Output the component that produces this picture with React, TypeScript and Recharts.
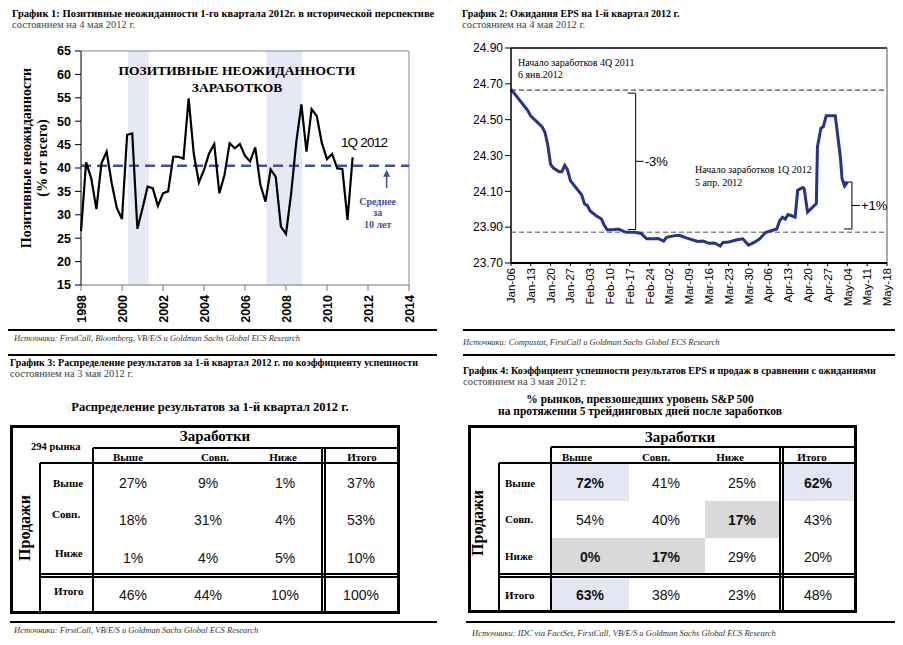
import React from 'react';
import { LineChart, Line, XAxis, YAxis, ReferenceLine, ReferenceArea } from 'recharts';

const SERIF = '"Liberation Serif", "Times New Roman", serif';
const SANS = '"Liberation Sans", Arial, sans-serif';
const NAVY = '#27348b';
const AVG_BLUE = '#4152a0';

// ---- chart 1: quarterly share of positive surprises, from 1998 Q1
const surpriseStartYear = 1998;
const surprisePct = [
  26.5, 41.2, 37.8, 31.2, 41.0, 43.5, 36.7, 31.4, 29.1, 47.1,
  47.4, 27.0, 31.4, 36.0, 35.7, 31.9, 34.6, 35.0, 42.4, 42.4,
  42.0, 54.9, 43.1, 36.9, 39.6, 43.1, 45.1, 34.6, 38.5, 45.3,
  44.2, 45.1, 42.6, 41.4, 44.4, 36.4, 32.8, 39.7, 38.1, 27.5,
  25.9, 34.5, 45.5, 53.6, 43.5, 52.6, 51.1, 45.3, 41.9, 43.0,
  39.9, 39.8, 28.9, 42.3,
];
const yearTicks = [1998, 2000, 2002, 2004, 2006, 2008, 2010, 2012, 2014];
const pctTicks = [15, 20, 25, 30, 35, 40, 45, 50, 55, 60, 65];
const recessions = [
  [2000.3, 2001.3],
  [2007.05, 2008.78],
];
const tenYearAvg = 40.5;

// ---- chart 2: 1Q 2012 EPS expectations, days since Jan-06
const epsDays = [
  0, 2, 4, 6, 7, 9, 11, 12, 13, 14, 15, 17, 18, 19, 20, 21, 23, 25, 26, 27,
  28, 30, 32, 33, 34, 36, 38, 40, 41, 44, 46, 48, 50, 52, 54, 55, 57, 59, 60, 62,
  66, 68, 70, 72, 74, 75, 77, 80, 82, 84, 86, 88, 90, 92, 94, 95, 96, 97, 98, 99,
  100.5, 101.4, 103.2, 103.7, 104.9, 108, 108.4, 109.6, 110.5, 111.5, 114.7, 116.5, 117.1, 118, 119,
];
const epsValues = [
  24.67, 24.63, 24.59, 24.55, 24.52, 24.49, 24.46, 24.43, 24.36, 24.25,
  24.23, 24.21, 24.21, 24.245, 24.22, 24.16, 24.12, 24.08, 24.03, 24.02,
  23.99, 23.965, 23.945, 23.91, 23.885, 23.885, 23.89, 23.875, 23.872, 23.872,
  23.865, 23.835, 23.835, 23.837, 23.822, 23.843, 23.85, 23.855, 23.852, 23.84,
  23.82, 23.822, 23.81, 23.812, 23.795, 23.815, 23.817, 23.83, 23.835, 23.8,
  23.815, 23.835, 23.87, 23.88, 23.89, 23.935, 23.955, 23.945, 23.97, 23.965,
  23.956, 24.106, 24.121, 24.115, 23.984, 24.031, 24.348, 24.452, 24.462, 24.522,
  24.522, 24.292, 24.171, 24.13, 24.152,
];
const weekLabels = [
  'Jan-06', 'Jan-13', 'Jan-20', 'Jan-27', 'Feb-03', 'Feb-10', 'Feb-17', 'Feb-24',
  'Mar-02', 'Mar-09', 'Mar-16', 'Mar-23', 'Mar-30', 'Apr-06', 'Apr-13', 'Apr-20',
  'Apr-27', 'May-04', 'May-11', 'May-18',
];
const epsTicks = [23.7, 23.9, 24.1, 24.3, 24.5, 24.7, 24.9];
const eps4QStart = 24.665;
const eps1QStart = 23.872;
const dropBracket = { day: 44.1, from: 24.648, to: 23.887, label: '-3%' };
const riseBracket = { day: 120.6, from: 24.152, to: 23.89, label: '+1%' };

// ---- tables 3 and 4
const colHeads = ['Выше', 'Совп.', 'Ниже', 'Итого'];
const rowHeads = ['Выше', 'Совп.', 'Ниже', 'Итого'];
const table3Values = [
  ['27%', '9%', '1%', '37%'],
  ['18%', '31%', '4%', '53%'],
  ['1%', '4%', '5%', '10%'],
  ['46%', '44%', '10%', '100%'],
];
const table4Values = [
  ['72%', '41%', '25%', '62%'],
  ['54%', '40%', '17%', '43%'],
  ['0%', '17%', '29%', '20%'],
  ['63%', '38%', '23%', '48%'],
];
// b = lavender highlight, g = grey highlight
const table4Shade = [
  ['b', '', '', 'b'],
  ['', '', 'g', ''],
  ['g', 'g', '', ''],
  ['b', '', '', ''],
];

const surpriseData = surprisePct.map((pct, i) => ({ year: surpriseStartYear + i / 4, pct }));
const epsData = epsDays.map((day, i) => ({ day, eps: epsValues[i] }));

function Txt({ x, y, anchor = 'start', style, children }: any) {
  const tx = anchor === 'middle' ? '-50%' : anchor === 'end' ? '-100%' : '0';
  return (
    <div
      style={{
        position: 'absolute', left: x, top: y, transform: `translate(${tx}, -50%)`,
        whiteSpace: 'nowrap', lineHeight: 1, ...style,
      }}
    >
      {children}
    </div>
  );
}

const HL = ({ x1, x2, y, t = 2 }: any) => (
  <div style={{ position: 'absolute', left: x1, top: y - t / 2, width: x2 - x1, height: t, background: '#000' }} />
);
const VL = ({ x, y1, y2, t = 2 }: any) => (
  <div style={{ position: 'absolute', left: x - t / 2, top: y1, width: t, height: y2 - y1, background: '#000' }} />
);

const YearTick = (props: any) => {
  const { x, y, payload } = props;
  return (
    <text x={x} y={y} transform={`rotate(-90 ${x} ${y})`} textAnchor="end" dy="0.36em"
      fontFamily={SANS} fontSize={12.5} fontWeight={700} fill="#000">
      {payload.value}
    </text>
  );
};

const WeekTick = (props: any) => {
  const { x, y, payload } = props;
  return (
    <text x={x} y={y} transform={`rotate(-90 ${x} ${y})`} textAnchor="end" dy="0.36em"
      fontFamily={SANS} fontSize={11.5} fill="#000">
      {weekLabels[Math.round(payload.value / 7)]}
    </text>
  );
};

const AvgArrow = (props: any) => {
  const { x1, y1, y2 } = props;
  const top = Math.min(y1, y2);
  const bot = Math.max(y1, y2);
  const tx = x1 - 9;
  const ts = { fontFamily: SERIF, fontSize: 10, fontWeight: 700, fill: AVG_BLUE, textAnchor: 'middle' as const };
  return (
    <g>
      <line x1={x1} y1={bot} x2={x1} y2={top + 5} stroke={AVG_BLUE} strokeWidth={1.5} />
      <polygon points={`${x1},${top} ${x1 - 3.5},${top + 7} ${x1 + 3.5},${top + 7}`} fill={AVG_BLUE} />
      <text x={tx} y={bot + 17} {...ts}>Среднее</text>
      <text x={tx} y={bot + 28} {...ts}>за</text>
      <text x={tx} y={bot + 40} {...ts}>10 лет</text>
    </g>
  );
};

const makeBracket = (label: string) => (props: any) => {
  const { x1, y1, y2 } = props;
  const top = Math.min(y1, y2);
  const bot = Math.max(y1, y2);
  const mid = (top + bot) / 2;
  return (
    <g>
      <path d={`M${x1 - 8},${top} H${x1} V${bot} H${x1 - 8} M${x1},${mid} H${x1 + 8}`}
        stroke="#000" strokeWidth={1} fill="none" />
      <text x={x1 + 9} y={mid} dy="0.36em" fontFamily={SANS} fontSize={13} fill="#000">{label}</text>
    </g>
  );
};

function SurpriseChart() {
  return (
    <div style={{ position: 'absolute', left: 0, top: 0 }}>
      <LineChart width={440} height={328} data={surpriseData} margin={{ top: 51, right: 31, bottom: 0, left: 41 }}>
        <XAxis dataKey="year" type="number" domain={[1998, 2014]} ticks={yearTicks} interval={0}
          height={43} tickSize={6} tickMargin={4} tick={<YearTick />}
          axisLine={{ stroke: '#777' }} tickLine={{ stroke: '#777' }} />
        <YAxis type="number" domain={[15, 65]} ticks={pctTicks} interval={0} width={40}
          tickSize={6} tickMargin={4}
          tick={{ fontFamily: SANS, fontSize: 12.5, fontWeight: 700, fill: '#000' }}
          axisLine={{ stroke: '#000' }} tickLine={{ stroke: '#000' }} />
        {recessions.map(([a, b]) => (
          <ReferenceArea key={a} x1={a} x2={b} y1={15} y2={65} fill="#e6e8f3" fillOpacity={1} stroke="none" />
        ))}
        <ReferenceLine y={65} stroke="#888" />
        <ReferenceLine x={2014} stroke="#888" />
        <ReferenceLine y={tenYearAvg} stroke={AVG_BLUE} strokeWidth={2.5} strokeDasharray="10 6" />
        <ReferenceLine segment={[{ x: 2012.91, y: 35.7 }, { x: 2012.91, y: 39.6 }]} shape={AvgArrow} />
        <Line type="linear" dataKey="pct" stroke="#000" strokeWidth={2.2} dot={false} isAnimationActive={false} />
      </LineChart>
      <Txt x={237} y={71} anchor="middle" style={{ fontFamily: SERIF, fontSize: 13.5, fontWeight: 700 }}>
        ПОЗИТИВНЫЕ НЕОЖИДАННОСТИ
      </Txt>
      <Txt x={237} y={87.5} anchor="middle" style={{ fontFamily: SERIF, fontSize: 13.5, fontWeight: 700 }}>
        ЗАРАБОТКОВ
      </Txt>
      <Txt x={364} y={143} anchor="middle" style={{ fontFamily: SANS, fontSize: 13.5, letterSpacing: -0.8 }}>
        1Q 2012
      </Txt>
      <div
        style={{
          position: 'absolute', left: 35, top: 158, transform: 'translate(-50%, -50%) rotate(-90deg)',
          textAlign: 'center', whiteSpace: 'nowrap', lineHeight: '16px',
          fontFamily: SERIF, fontSize: 14, fontWeight: 700,
        }}
      >
        Позитивные неожиданности<br />(% от всего)
      </div>
    </div>
  );
}

function EpsChart() {
  return (
    <div style={{ position: 'absolute', left: 450, top: 0 }}>
      <LineChart width={453} height={330} data={epsData} margin={{ top: 48, right: 16, bottom: 15, left: 0 }}>
        <XAxis dataKey="day" type="number" domain={[0, 133]} ticks={weekLabels.map((_, i) => i * 7)}
          interval={0} height={52} tickSize={3} tickMargin={2} tick={<WeekTick />}
          axisLine={{ stroke: '#000', strokeWidth: 2 }} tickLine={{ stroke: '#000' }} />
        <YAxis type="number" domain={[23.7, 24.9]} ticks={epsTicks} interval={0} width={61}
          tickSize={6} tickMargin={2} tickFormatter={(v: number) => v.toFixed(2)}
          tick={{ fontFamily: SANS, fontSize: 12, fill: '#000' }}
          axisLine={{ stroke: '#000', strokeWidth: 1.5 }} tickLine={{ stroke: '#000' }} />
        <ReferenceLine y={24.9} stroke="#000" strokeWidth={1.5} />
        <ReferenceLine x={133} stroke="#555" />
        <ReferenceLine y={eps4QStart} stroke="#222" strokeDasharray="5 3" />
        <ReferenceLine y={eps1QStart} stroke="#555" strokeDasharray="5 3" />
        <ReferenceLine
          segment={[{ x: dropBracket.day, y: dropBracket.from }, { x: dropBracket.day, y: dropBracket.to }]}
          shape={makeBracket(dropBracket.label)} />
        <ReferenceLine
          segment={[{ x: riseBracket.day, y: riseBracket.from }, { x: riseBracket.day, y: riseBracket.to }]}
          shape={makeBracket(riseBracket.label)} />
        <Line type="linear" dataKey="eps" stroke={NAVY} strokeWidth={3} dot={false} isAnimationActive={false} />
      </LineChart>
      <Txt x={68} y={63} style={{ fontFamily: SERIF, fontSize: 10 }}>Начало заработков 4Q 2011</Txt>
      <Txt x={68} y={74.5} style={{ fontFamily: SERIF, fontSize: 10 }}>6 янв.2012</Txt>
      <Txt x={245} y={170} style={{ fontFamily: SERIF, fontSize: 10 }}>Начало заработков 1Q 2012</Txt>
      <Txt x={245} y={182.5} style={{ fontFamily: SERIF, fontSize: 10 }}>5 апр. 2012</Txt>
    </div>
  );
}

function ResultTable({ g, values, shade }: any) {
  const head = { fontFamily: SERIF, fontWeight: 700, fontSize: 11 };
  return (
    <>
      {shade &&
        shade.map((row: string[], r: number) =>
          row.map((s, c) =>
            s ? (
              <div key={`s${r}${c}`} style={{
                position: 'absolute', left: g.cellX[c][0], top: g.cellY[r][0],
                width: g.cellX[c][1] - g.cellX[c][0], height: g.cellY[r][1] - g.cellY[r][0],
                background: s === 'b' ? '#e4e7f3' : '#d9d9d9',
              }} />
            ) : null,
          ),
        )}
      <div style={{
        position: 'absolute', left: g.left, top: g.top, width: g.right - g.left, height: g.bottom - g.top,
        border: '3px solid #000', boxSizing: 'border-box',
      }} />
      <HL x1={g.headV} x2={g.right} y={g.headLine} t={1.5} />
      <HL x1={g.rowV} x2={g.right} y={g.subLine} t={2} />
      <VL x={g.headV} y1={g.headLine} y2={g.bottom} />
      <VL x={g.rowV} y1={g.subLine} y2={g.bottom} />
      <VL x={g.dblX} y1={g.headLine} y2={g.bottom} t={1.5} />
      <VL x={g.dblX + 3} y1={g.headLine} y2={g.bottom} t={1.5} />
      <HL x1={g.rowV} x2={g.right} y={g.dblY} t={1.5} />
      <HL x1={g.rowV} x2={g.right} y={g.dblY + 3} t={1.5} />
      <Txt x={g.titleX} y={g.titleY} anchor="middle" style={{ fontFamily: SERIF, fontWeight: 700, fontSize: 15 }}>
        Заработки
      </Txt>
      {colHeads.map((h, i) => (
        <Txt key={h} x={g.headX[i]} y={g.headY} anchor="middle" style={head}>{h}</Txt>
      ))}
      {rowHeads.map((h, i) => (
        <Txt key={h} x={g.rowLabelX[i]} y={g.rowLabelY[i]} style={head}>{h}</Txt>
      ))}
      {values.map((row: string[], r: number) =>
        row.map((v, c) => (
          <Txt key={`v${r}${c}`} x={g.valX[c]} y={g.valY[r]} anchor="middle"
            style={{ fontFamily: SANS, fontSize: 14, color: '#111', fontWeight: shade && shade[r][c] ? 700 : 400 }}>
            {v}
          </Txt>
        )),
      )}
      <div style={{
        position: 'absolute', left: g.prodX, top: g.prodY, transform: 'translate(-50%, -50%) rotate(-90deg)',
        whiteSpace: 'nowrap', lineHeight: 1, fontFamily: SERIF, fontWeight: 700, fontSize: 16,
      }}>
        Продажи
      </div>
    </>
  );
}

const geo3 = {
  left: 10, top: 425, right: 400, bottom: 614,
  headLine: 448, subLine: 463, headV: 93, rowV: 40, dblX: 322, dblY: 574,
  titleX: 215, titleY: 436, headX: [128, 215, 283, 362], headY: 457,
  rowLabelX: [53, 52, 55, 54], rowLabelY: [483, 514, 553, 591],
  valX: [133, 208, 285, 361], valY: [483, 520, 558, 595],
  prodX: 25, prodY: 528,
};
const geo4 = {
  left: 468, top: 425, right: 857, bottom: 613,
  headLine: 447, subLine: 463, headV: 551, rowV: 499, dblX: 780, dblY: 574,
  titleX: 680, titleY: 437, headX: [577, 656, 730, 812], headY: 457,
  rowLabelX: [505, 505, 505, 505], rowLabelY: [483, 519, 556, 595],
  valX: [590, 666, 742, 818], valY: [483, 520, 557, 595],
  prodX: 478, prodY: 523,
  cellX: [[551, 629], [629, 705], [705, 780], [783, 857]],
  cellY: [[463, 501], [501, 538], [538, 574], [577, 613]],
};

const hdr = { fontFamily: SERIF, fontSize: 10, fontWeight: 700 };
const sub = { fontFamily: SERIF, fontSize: 10.5, color: '#444' };
const src = { fontFamily: SERIF, fontSize: 8.5, fontStyle: 'italic', color: '#333' };

export default function App() {
  return (
    <div style={{ position: 'absolute', left: 0, top: 0, width: 903, height: 645, background: '#fff', overflow: 'hidden' }}>
      <Txt x={12} y={14} style={{ ...hdr, fontSize: 10.5 }}>
        График 1: Позитивные неожиданности 1-го квартала 2012г. в исторической перспективе
      </Txt>
      <Txt x={12} y={24.5} style={sub}>состоянием на 4 мая 2012 г.</Txt>
      <Txt x={462} y={14} style={hdr}>График 2: Ожидания EPS на 1-й квартал 2012 г.</Txt>
      <Txt x={462} y={24.5} style={sub}>состоянием на 4 мая 2012 г.</Txt>

      <SurpriseChart />
      <EpsChart />

      <HL x1={8} x2={437} y={330} />
      <Txt x={14} y={338} style={src}>Источники: FirstCall, Bloomberg, VB/E/S и Goldman Sachs Global ECS Research</Txt>
      <HL x1={8} x2={437} y={355} />
      <HL x1={463} x2={895} y={330} />
      <Txt x={463} y={342} style={src}>Источники: Compustat, FirstCall и Goldman Sachs Global ECS Research</Txt>
      <HL x1={463} x2={895} y={355} />

      <Txt x={10} y={363} style={hdr}>График 3: Распределение результатов за 1-й квартал 2012 г. по коэффициенту успешности</Txt>
      <Txt x={10} y={374} style={sub}>состоянием на 3 мая 2012 г.</Txt>
      <Txt x={210} y={407} anchor="middle" style={{ fontFamily: SERIF, fontSize: 12.5, fontWeight: 700 }}>
        Распределение результатов за 1-й квартал 2012 г.
      </Txt>

      <Txt x={463} y={371} style={hdr}>График 4: Коэффициент успешности результатов EPS и продаж в сравнении с ожиданиями</Txt>
      <Txt x={463} y={382} style={sub}>состоянием на 3 мая 2012 г.</Txt>
      <Txt x={640} y={400} anchor="middle" style={{ fontFamily: SERIF, fontSize: 11.5, fontWeight: 700 }}>
        % рынков, превзошедших уровень S&amp;P 500
      </Txt>
      <Txt x={640} y={411.5} anchor="middle" style={{ fontFamily: SERIF, fontSize: 11.5, fontWeight: 700 }}>
        на протяжении 5 трейдинговых дней после заработков
      </Txt>

      <ResultTable g={geo3} values={table3Values} />
      <Txt x={31} y={447} style={{ fontFamily: SERIF, fontWeight: 700, fontSize: 10.5 }}>294 рынка</Txt>
      <ResultTable g={geo4} values={table4Values} shade={table4Shade} />

      <HL x1={10} x2={437} y={622} />
      <Txt x={14} y={630} style={src}>Источники: FirstCall, VB/E/S и Goldman Sachs Global ECS Research</Txt>
      <HL x1={466} x2={895} y={622} />
      <Txt x={472} y={633} style={src}>Источники: IDC via FactSet, FirstCall, VB/E/S и Goldman Sachs Global ECS Research</Txt>
    </div>
  );
}
